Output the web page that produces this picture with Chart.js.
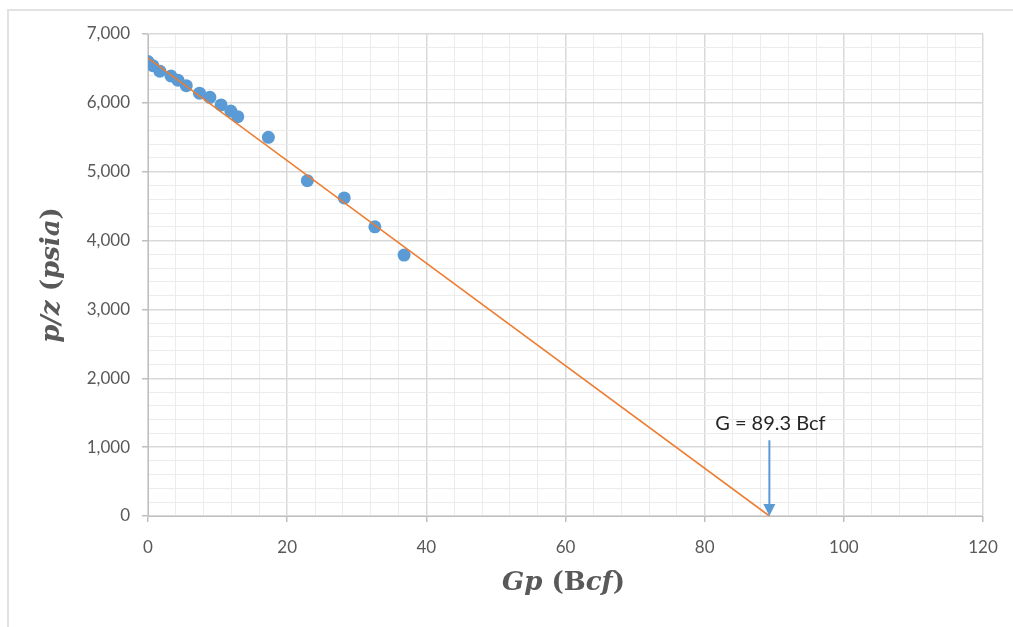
<!DOCTYPE html>
<html>
<head>
<meta charset="utf-8">
<script src="https://cdn.jsdelivr.net/npm/chart.js@4.4.1/dist/chart.umd.min.js"></script>
<style>
    html, body { margin: 0; padding: 0; background: #fff; }
    #frame {
        position: absolute; left: 7px; top: 9px; width: 1006px; height: 618px;
        border-left: 2px solid #e2e2e2; border-top: 2px solid #e2e2e2;
        pointer-events: none;
    }
    #chart { position: absolute; left: 0; top: 0; }
</style>
</head>
<body>
<canvas id="chart" width="1013" height="627"></canvas>
<div id="frame"></div>
<script>
// Cumulative gas production (Bcf) and p/z (psia)
const gpValues = [0, 0.7, 1.7, 3.3, 4.3, 5.5, 7.4, 8.9, 10.5, 11.9, 12.9, 17.3, 22.9, 28.2, 32.6, 36.8];
const pzValues = [6600, 6540, 6460, 6390, 6330, 6250, 6140, 6080, 5970, 5880, 5800, 5500, 4870, 4620, 4200, 3790];

// Straight-line fit, p/z intercept to G
const fitGp = [0, 89.3];
const fitPz = [6650, 0];

const xTickLabels = [0, 20, 40, 60, 80, 100, 120];
const yTickLabels = [0, 1000, 2000, 3000, 4000, 5000, 6000, 7000];

const annotationText = 'G = 89.3 Bcf';
const arrowTop = 1100;

const tickFont = { family: 'Lato', size: 17 };
const tickColor = '#595959';

function isMajor(list, v) {
    return list.indexOf(v) !== -1;
}

// draws axis titles (mixed italic / upright) and the G arrow
const extrasPlugin = {
    id: 'extras',
    afterDatasetsDraw(chart) {
        const ctx = chart.ctx;
        const xs = chart.scales.x;
        const ys = chart.scales.y;

        // arrow to G
        const ax = xs.getPixelForValue(fitGp[1]);
        const top = ys.getPixelForValue(arrowTop);
        const bottom = ys.getPixelForValue(0);
        ctx.save();
        ctx.strokeStyle = '#5B9BD5';
        ctx.fillStyle = '#5B9BD5';
        ctx.lineWidth = 2;
        ctx.beginPath();
        ctx.moveTo(ax, top);
        ctx.lineTo(ax, bottom - 10);
        ctx.stroke();
        ctx.beginPath();
        ctx.moveTo(ax - 6, bottom - 12);
        ctx.lineTo(ax + 6, bottom - 12);
        ctx.lineTo(ax, bottom);
        ctx.closePath();
        ctx.fill();

        ctx.fillStyle = '#262626';
        ctx.font = '20px Lato';
        ctx.textAlign = 'center';
        ctx.textBaseline = 'middle';
        ctx.fillText(annotationText, ax + 1, top - 17);
        ctx.restore();

        drawTitle(ctx, [['Gp', true], [' (B', false], ['cf', true], [')', false]],
            (chart.chartArea.left + chart.chartArea.right) / 2 - 2, 583, 0);
        drawTitle(ctx, [['p/z', true], [' (', false], ['psia', true], [')', false]],
            52, (chart.chartArea.top + chart.chartArea.bottom) / 2, -Math.PI / 2);
    }
};

function drawTitle(ctx, parts, cx, cy, rot) {
    const fam = '"DejaVu Serif"';
    const size = 26;
    ctx.save();
    ctx.translate(cx, cy);
    ctx.rotate(rot);
    ctx.fillStyle = '#595959';
    ctx.textBaseline = 'middle';
    ctx.textAlign = 'left';
    let total = 0;
    parts.forEach(p => {
        ctx.font = (p[1] ? 'italic ' : '') + 'bold ' + size + 'px ' + fam;
        total += ctx.measureText(p[0]).width;
    });
    let x = -total / 2;
    parts.forEach(p => {
        ctx.font = (p[1] ? 'italic ' : '') + 'bold ' + size + 'px ' + fam;
        ctx.fillText(p[0], x, 0);
        x += ctx.measureText(p[0]).width;
    });
    ctx.restore();
}

const points = gpValues.map((g, i) => ({ x: g, y: pzValues[i] }));
const fitLine = fitGp.map((g, i) => ({ x: g, y: fitPz[i] }));

new Chart(document.getElementById('chart').getContext('2d'), {
    type: 'scatter',
    data: {
        datasets: [{
            label: 'Fit',
            data: fitLine,
            showLine: true,
            borderColor: '#ED7D31',
            borderWidth: 1.6,
            pointRadius: 0,
            order: 0
        }, {
            label: 'p/z',
            data: points,
            backgroundColor: '#5B9BD5',
            borderColor: '#5B9BD5',
            borderWidth: 0,
            pointRadius: 6.5,
            order: 1
        }]
    },
    options: {
        responsive: false,
        animation: false,
        layout: { padding: { top: 34, right: 30, left: 0, bottom: 0 } },
        plugins: {
            legend: { display: false },
            tooltip: { enabled: false }
        },
        scales: {
            x: {
                type: 'linear',
                min: 0,
                max: 120,
                afterFit: s => { s.height = 111; },
                border: { color: '#bfbfbf', width: 1 },
                grid: {
                    color: c => isMajor(xTickLabels, c.tick.value) ? '#d9d9d9' : '#ececec',
                    lineWidth: c => isMajor(xTickLabels, c.tick.value) ? 1.5 : 1,
                    tickColor: c => isMajor(xTickLabels, c.tick.value) ? '#bfbfbf' : 'rgba(0,0,0,0)',
                    tickLength: 6
                },
                ticks: {
                    stepSize: 4,
                    autoSkip: false,
                    maxRotation: 0,
                    padding: 15,
                    color: tickColor,
                    font: tickFont,
                    callback: v => isMajor(xTickLabels, v) ? String(v) : ''
                }
            },
            y: {
                min: 0,
                max: 7000,
                afterFit: s => { s.width = 148; },
                border: { color: '#bfbfbf', width: 1 },
                grid: {
                    color: c => isMajor(yTickLabels, c.tick.value) ? '#d9d9d9' : '#ececec',
                    lineWidth: c => isMajor(yTickLabels, c.tick.value) ? 1.5 : 1,
                    tickColor: c => isMajor(yTickLabels, c.tick.value) ? '#bfbfbf' : 'rgba(0,0,0,0)',
                    tickLength: 6
                },
                ticks: {
                    stepSize: 200,
                    autoSkip: false,
                    padding: 12,
                    color: tickColor,
                    font: tickFont,
                    callback: v => isMajor(yTickLabels, v) ? v.toLocaleString('en-US') : ''
                }
            }
        }
    },
    plugins: [extrasPlugin]
});
</script>
</body>
</html>
